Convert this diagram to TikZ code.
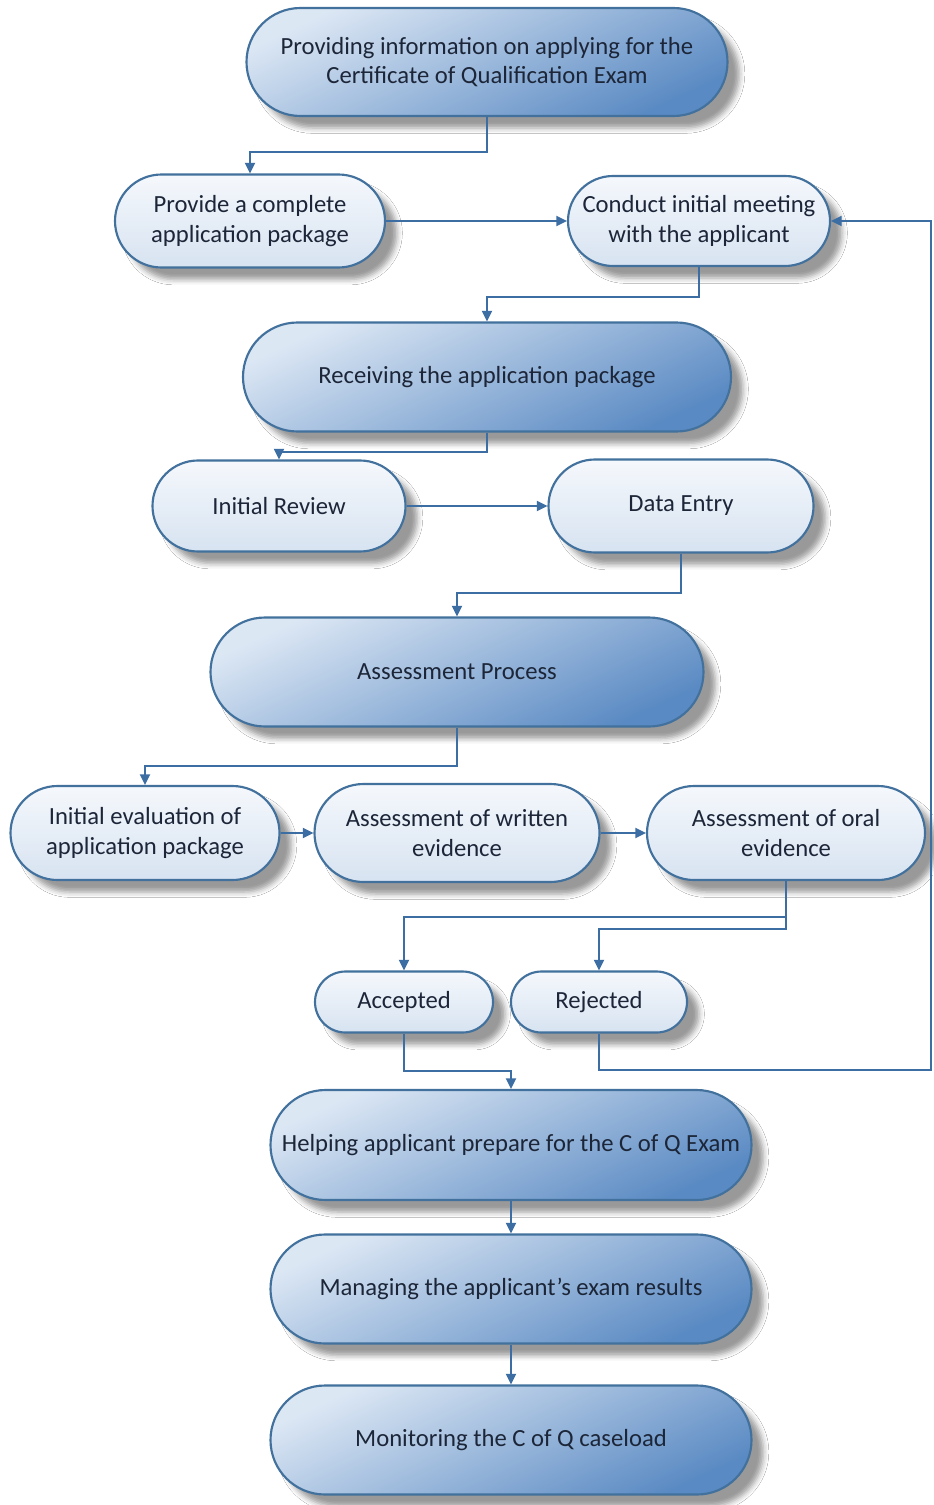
\documentclass[tikz,border=0pt]{standalone}
\usepackage{fontspec}
\setmainfont{Carlito}
\usetikzlibrary{shapes.misc,shadows.blur,arrows.meta}
\definecolor{edge}{HTML}{41719C}
\definecolor{wire}{HTML}{3C6DA3}
\definecolor{bigtop}{HTML}{DCE7F4}
\definecolor{bigbot}{HTML}{5A8AC3}
\definecolor{smalltop}{HTML}{F5F8FC}
\definecolor{smallbot}{HTML}{D7E3F1}
\definecolor{ink}{HTML}{1C2638}
\tikzset{
  px/.style 2 args={minimum width=#1*0.75pt, minimum height=#2*0.75pt},
  stage/.style={rounded rectangle, draw=edge, line width=1.6pt, inner sep=0pt,
    text=ink, align=center, font=\fontsize{18.5}{22}\selectfont,
    blur shadow={shadow xshift=9pt, shadow yshift=-9pt, shadow blur radius=4pt, shadow opacity=40}},
  bigbox/.style={stage, top color=bigtop, bottom color=bigbot, shading angle=25},
  smallbox/.style={stage, top color=smalltop, bottom color=smallbot},
  link/.style={draw=wire, line width=1.5pt, -{Triangle[length=8pt,width=7.5pt]}}
}
\begin{document}
\begin{tikzpicture}[x=0.75pt, y=-0.75pt]
\useasboundingbox (0,0) rectangle (933,1505);
\fill[white] (0,0) rectangle (933,1505);

% process stages
\node[bigbox, px={481}{108}] (info) at (487,62) {Providing information on applying for the\\Certificate of Qualification Exam};
\node[smallbox, px={270}{93}] (pack) at (250,221) {Provide a complete\\application package};
\node[smallbox, px={262}{90}] (meet) at (699,221) {Conduct initial meeting\\with the applicant};
\node[bigbox, px={488}{109}] (recv) at (487,377) {Receiving the application package};
\node[smallbox, px={253}{91}] (rev) at (279,506) {Initial Review};
\node[smallbox, px={265}{93}] (data) at (681,506) {Data Entry};
\node[bigbox, px={493}{109}] (assess) at (457,672) {Assessment Process};
\node[smallbox, px={269}{94}] (eval) at (145,833) {Initial evaluation of\\application package};
\node[smallbox, px={285}{98}] (writ) at (457,833) {Assessment of written\\evidence};
\node[smallbox, px={278}{94}] (oral) at (786,833) {Assessment of oral\\evidence};
\node[smallbox, px={178}{61}] (acc) at (404,1002) {Accepted};
\node[smallbox, px={176}{61}] (rej) at (599,1002) {Rejected};
\node[bigbox, px={481}{110}] (help) at (511,1145) {Helping applicant prepare for the C of Q Exam};
\node[bigbox, px={481}{109}] (res) at (511,1289) {Managing the applicant’s exam results};
\node[bigbox, px={481}{109}] (mon) at (511,1440) {Monitoring the C of Q caseload};

% return path for rejected applications
\coordinate (loopB) at (931,1070);
\coordinate (loopT) at (931,221);

% connectors
\draw[link] (info.south) -- ++(0,35) -| (pack.north);
\draw[link] (pack.east) -- (meet.west);
\draw[link] (meet.south) -- ++(0,30) -| (recv.north);
\draw[link] (recv.south) -- ++(0,19) -| (rev.north);
\draw[link] (rev.east) -- (data.west);
\draw[link] (data.south) -- ++(0,39) -| (assess.north);
\draw[link] (assess.south) -- ++(0,38) -| (eval.north);
\draw[link] (eval.east) -- (writ.west);
\draw[link] (writ.east) -- (oral.west);
\draw[link] (oral.south) -- ++(0,36) -| (acc.north);
\draw[link] (oral.south) -- ++(0,48) -| (rej.north);
\draw[link] (acc.south) -- ++(0,37) -| (help.north);
\draw[link] (rej.south) |- (loopB) -- (loopT) -- (meet.east);
\draw[link] (help.south) -- (res.north);
\draw[link] (res.south) -- (mon.north);
\end{tikzpicture}
\end{document}
